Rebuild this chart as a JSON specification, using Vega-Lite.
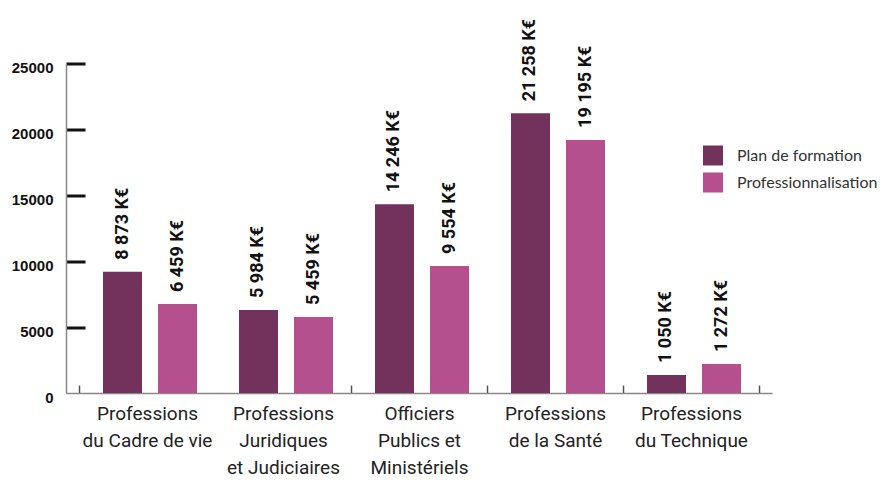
{
  "$schema": "https://vega.github.io/schema/vega-lite/v6.json",
  "width": 706,
  "height": 329.5,
  "autosize": "none",
  "padding": {"left": 66, "top": 63.5, "right": 109, "bottom": 90},
  "background": "white",
  "config": {"view": {"stroke": null}},
  "data": {
    "values": [
      {"cat": "Professions|du Cadre de vie", "serie": "Plan de formation", "value": 9200, "label": "8 873 K€"},
      {"cat": "Professions|du Cadre de vie", "serie": "Professionnalisation", "value": 6750, "label": "6 459 K€"},
      {"cat": "Professions|Juridiques|et Judiciaires", "serie": "Plan de formation", "value": 6300, "label": "5 984 K€"},
      {"cat": "Professions|Juridiques|et Judiciaires", "serie": "Professionnalisation", "value": 5770, "label": "5 459 K€"},
      {"cat": "Officiers|Publics et|Ministériels", "serie": "Plan de formation", "value": 14320, "label": "14 246 K€"},
      {"cat": "Officiers|Publics et|Ministériels", "serie": "Professionnalisation", "value": 9640, "label": "9 554 K€"},
      {"cat": "Professions|de la Santé", "serie": "Plan de formation", "value": 21220, "label": "21 258 K€"},
      {"cat": "Professions|de la Santé", "serie": "Professionnalisation", "value": 19200, "label": "19 195 K€"},
      {"cat": "Professions|du Technique", "serie": "Plan de formation", "value": 1370, "label": "1 050 K€"},
      {"cat": "Professions|du Technique", "serie": "Professionnalisation", "value": 2200, "label": "1 272 K€"}
    ]
  },
  "encoding": {
    "x": {
      "field": "cat", "type": "nominal", "sort": null,
      "scale": {"paddingInner": 0, "paddingOuter": 0.0956},
      "axis": {
        "title": null, "labelAngle": 0, "labelExpr": "split(datum.label, '|')",
        "labelFont": "Roboto", "labelFontSize": 19, "labelLineHeight": 27,
        "labelColor": "#222", "labelPadding": 19, "labelBaseline": "top",
        "tickBand": "extent", "tickSize": -8, "tickColor": "#555", "tickWidth": 1.5,
        "tickOpacity": {"condition": {"test": "datum.value === 'Professions|du Cadre de vie'", "value": 0}, "value": 1},
        "domainColor": "#888", "domainWidth": 1.5
      }
    },
    "xOffset": {
      "field": "serie", "type": "nominal", "sort": ["Plan de formation", "Professionnalisation"],
      "scale": {"range": [24, 118], "paddingInner": 0.291, "paddingOuter": 0}
    },
    "y": {
      "field": "value", "type": "quantitative",
      "scale": {"domain": [0, 25000], "nice": false},
      "axis": {
        "title": null, "grid": false, "format": "d",
        "values": [0, 5000, 10000, 15000, 20000, 25000],
        "labelFont": "Liberation Sans", "labelFontWeight": "bold", "labelFontSize": 15,
        "labelColor": "#111", "labelPadding": 32, "labelOffset": 4,
        "tickSize": -19, "tickWidth": 3, "tickColor": "#111",
        "tickOpacity": {"condition": {"test": "datum.value === 0", "value": 0}, "value": 1},
        "domainColor": "#888", "domainWidth": 1.5
      }
    }
  },
  "layer": [
    {
      "mark": {"type": "bar"},
      "encoding": {
        "color": {
          "field": "serie", "type": "nominal",
          "scale": {"domain": ["Plan de formation", "Professionnalisation"], "range": ["#72325c", "#b54f8d"]},
          "legend": {
            "title": null, "orient": "none", "legendX": 637, "legendY": 82,
            "symbolType": "square", "symbolSize": 400, "symbolStrokeWidth": 0, "symbolOpacity": 1,
            "labelFont": "Lato", "labelFontSize": 16, "labelColor": "#333",
            "labelOffset": 14, "rowPadding": 7
          }
        }
      }
    },
    {
      "mark": {"type": "text", "angle": 270, "align": "left", "baseline": "middle", "dx": 12,
               "font": "Roboto", "fontWeight": "bold", "fontSize": 18, "color": "#111"},
      "encoding": {"text": {"field": "label"}}
    }
  ]
}
